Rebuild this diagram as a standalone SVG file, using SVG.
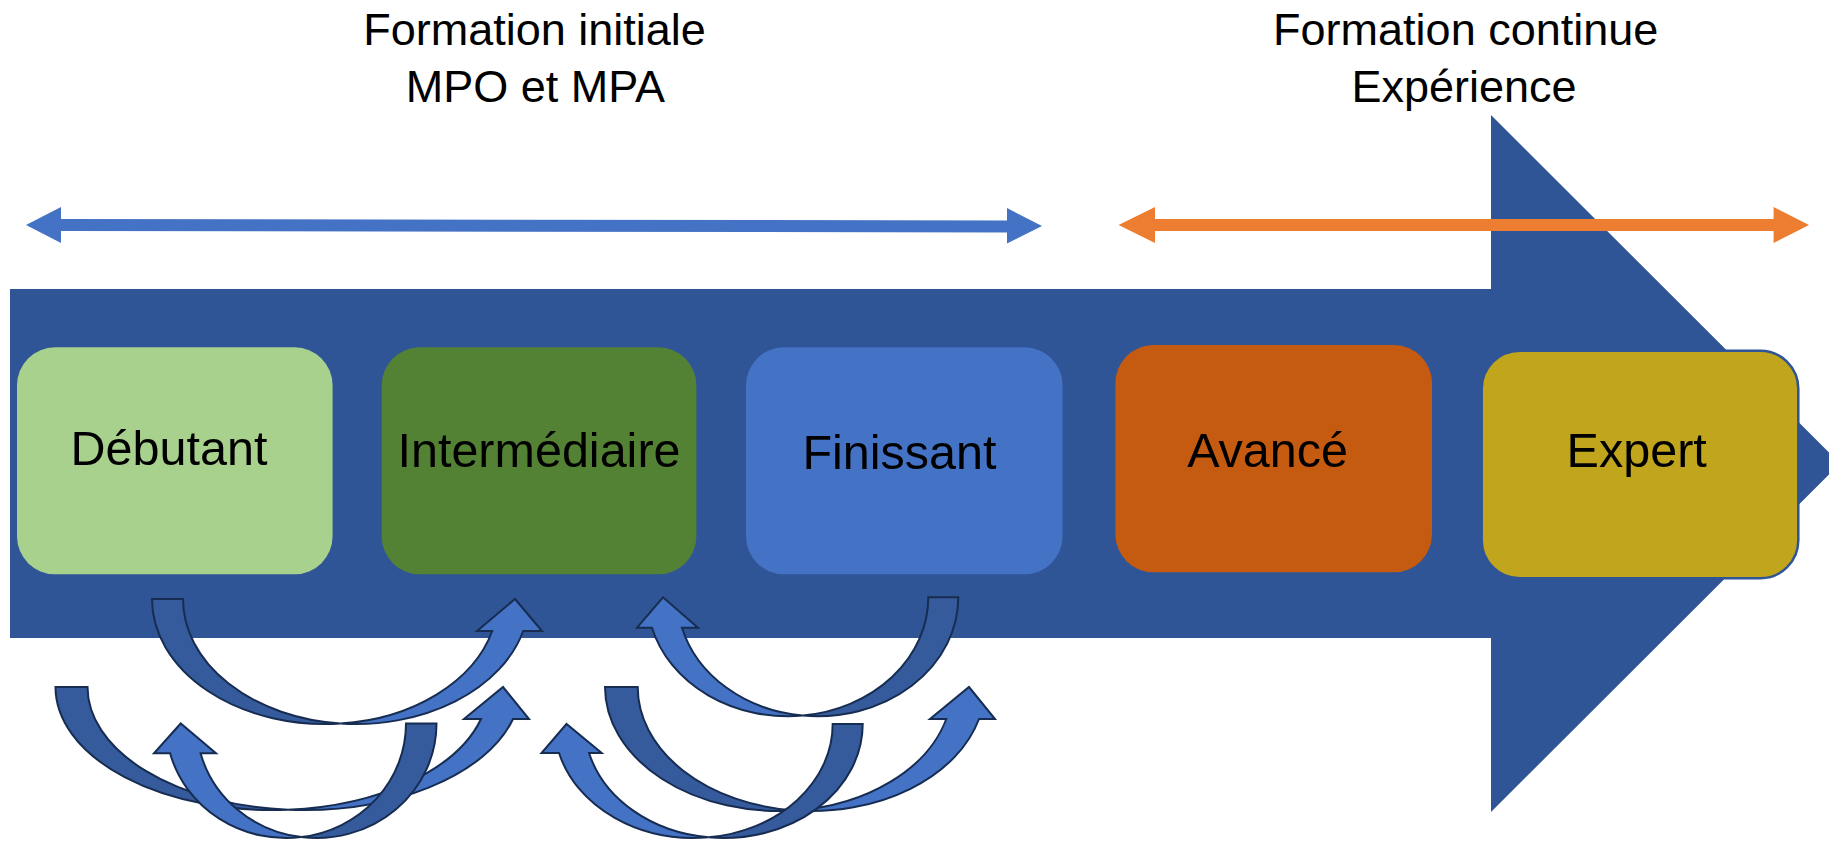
<svg xmlns="http://www.w3.org/2000/svg" width="1829" height="841" viewBox="0 0 1829 841">
  <style>
    .title { font-family: "Liberation Sans", Arial, sans-serif; font-size: 45px; fill: #000; text-anchor: middle; }
    .lbl { font-family: "Liberation Sans", Arial, sans-serif; font-size: 48.5px; fill: #000; text-anchor: middle; }
    .dark { fill: #365B9D; stroke: #172C51; stroke-width: 2; stroke-linejoin: miter; }
    .light { fill: #4472C4; stroke: #172C51; stroke-width: 2; stroke-linejoin: miter; }
  </style>
  <rect width="1829" height="841" fill="#ffffff"/>

  <!-- big background arrow -->
  <polygon id="timeline" points="10,289 1491,289 1491,115 1840,463.5 1491,812 1491,638 10,638" fill="#2F5597"/>

  <!-- titles -->
  <g id="title-initiale">
    <text class="title" x="534.5" y="44.5">Formation initiale</text>
    <text class="title" x="535.4" y="101.7">MPO et MPA</text>
  </g>
  <g id="title-continue">
    <text class="title" x="1465.7" y="44.5">Formation continue</text>
    <text class="title" x="1464" y="101.7">Expérience</text>
  </g>

  <!-- range arrows -->
  <g id="ranges">
    <polygon id="range-initiale" points="26,225 61,207 61,219 1007,220.5 1007,208 1042,226 1007,243.5 1007,232.5 61,231 61,243" fill="#4472C4"/>
    <polygon id="range-continue" points="1118.6,225 1155,207 1155,219 1773.6,219 1773.6,207 1809,225 1773.6,243 1773.6,231 1155,231 1155,243" fill="#ED7D31"/>
  </g>

  <!-- nodes -->
  <g id="node-debutant">
    <rect x="17" y="347.3" width="315.6" height="227" rx="38" ry="38" fill="#A9D18E"/>
    <text class="lbl" x="169" y="465">Débutant</text>
  </g>
  <g id="node-intermediaire">
    <rect x="381.7" y="347.3" width="314.7" height="227" rx="38" ry="38" fill="#548235"/>
    <text class="lbl" x="539" y="466.7">Intermédiaire</text>
  </g>
  <g id="node-finissant">
    <rect x="746" y="347.3" width="316.6" height="227" rx="38" ry="38" fill="#4472C4"/>
    <text class="lbl" x="899.5" y="469.3">Finissant</text>
  </g>
  <g id="node-avance">
    <rect x="1115.4" y="345" width="316.6" height="227.3" rx="38" ry="38" fill="#C55A11"/>
    <text class="lbl" x="1267.6" y="466.7">Avancé</text>
  </g>
  <g id="node-expert">
    <rect x="1481.7" y="350.7" width="316.6" height="227.6" rx="38" ry="38" fill="#C0A51D" stroke="#2F5597" stroke-width="2.5"/>
    <text class="lbl" x="1636.7" y="466.7">Expert</text>
  </g>

  <!-- connectors: curved arrows -->
  <g id="connectors">
    <g id="arrow-B">
      <path class="dark" d="M55.5,687 A216.5,123 0 0 0 288,809.7 A216.5,123 0 0 1 87.5,687 Z"/>
      <path class="light" d="M288,809.7 A216.5,123 0 0 0 513,719 L529,719 L503,687 L464,719 L481,719 A216.5,123 0 0 1 288,809.7 Z"/>
    </g>
    <g id="arrow-C">
      <path class="dark" d="M436.5,723.5 A120,114.5 0 0 1 301.25,837.1 A120,114.5 0 0 0 406,723.5 Z"/>
      <path class="light" d="M301.25,837.1 A120,114.5 0 0 1 170.1,753.3 L154,753.3 L180.7,723.5 L216,753.3 L200.6,753.3 A120,114.5 0 0 0 301.25,837.1 Z"/>
    </g>
    <g id="arrow-A">
      <path class="dark" d="M152,599 A173,125 0 0 0 340.5,723.5 A173,125 0 0 1 183,599 Z"/>
      <path class="light" d="M340.5,723.5 A173,125 0 0 0 523.2,631 L542,631 L515,599 L477,631 L492.2,631 A173,125 0 0 1 340.5,723.5 Z"/>
    </g>
    <g id="arrow-E">
      <path class="dark" d="M605,687 A173.6,124 0 0 0 794.95,810.45 A173.6,124 0 0 1 637.7,687 Z"/>
      <path class="light" d="M794.95,810.45 A173.6,124 0 0 0 979,719 L995,719 L969,687 L930,719 L946.3,719 A173.6,124 0 0 1 794.95,810.45 Z"/>
    </g>
    <g id="arrow-F">
      <path class="dark" d="M862.7,724 A139.1,114 0 0 1 708.6,837.34 A139.1,114 0 0 0 832.7,724 Z"/>
      <path class="light" d="M708.6,837.34 A139.1,114 0 0 1 559.07,753 L541.5,753 L566.5,724 L601.7,753 L589.07,753 A139.1,114 0 0 0 708.6,837.34 Z"/>
    </g>
    <g id="arrow-D">
      <path class="dark" d="M958.3,597.3 A140.5,119 0 0 1 802.8,715.6 A140.5,119 0 0 0 928.3,597.3 Z"/>
      <path class="light" d="M802.8,715.6 A140.5,119 0 0 1 652,627.7 L637,627.7 L663,597.3 L698,627.7 L682,627.7 A140.5,119 0 0 0 802.8,715.6 Z"/>
    </g>
  </g>
</svg>
